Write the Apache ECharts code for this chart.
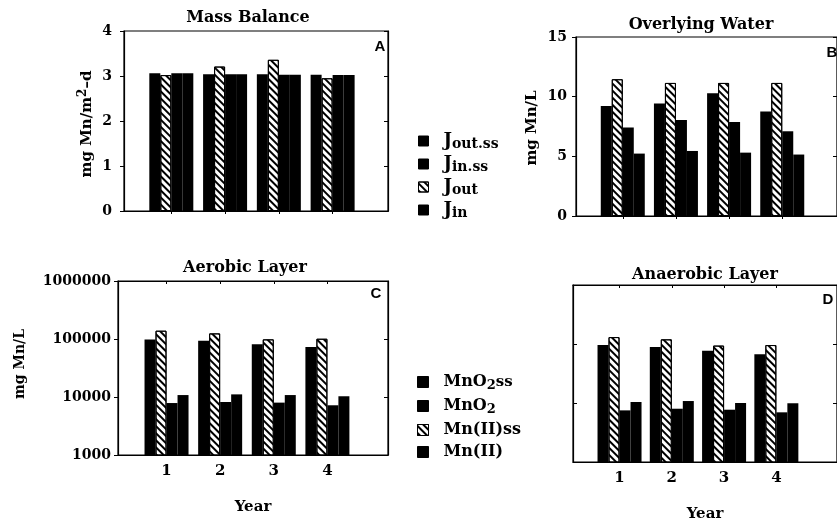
<!DOCTYPE html>
<html><head><meta charset="utf-8">
<script src="https://cdn.jsdelivr.net/npm/echarts@6/dist/echarts.min.js"></script>
<style>html,body{margin:0;padding:0;background:#fff}#c{width:837px;height:523px}</style>
</head><body><div id="c"></div>
<script>
// ---------- data ----------
const years = [1, 2, 3, 4];
const panelTitles = ['Mass Balance', 'Overlying Water', 'Aerobic Layer', 'Anaerobic Layer'];
const panelLetters = ['A', 'B', 'C', 'D'];
const fluxNames = ['Jout.ss', 'Jin.ss', 'Jout', 'Jin'];
const mnNames = ['MnO2ss', 'MnO2', 'Mn(II)ss', 'Mn(II)'];

// A: Mass Balance (mg Mn/m2-d)
const massJoutSS = [3.06, 3.04, 3.04, 3.03];
const massJout   = [3.02, 3.21, 3.36, 2.95];
const massJinSS  = [3.06, 3.04, 3.03, 3.02];
const massJin    = [3.06, 3.04, 3.03, 3.02];
// B: Overlying Water (mg Mn/L)
const waterJoutSS = [9.22, 9.42, 10.28, 8.75];
const waterJout   = [11.46, 11.15, 11.15, 11.15];
const waterJinSS  = [7.41, 8.05, 7.88, 7.10];
const waterJin    = [5.23, 5.45, 5.31, 5.15];
// C: Aerobic Layer (mg Mn/L)
const aeroMnO2ss  = [98000, 93500, 81000, 73000];
const aeroMnIIss  = [139000, 125000, 98600, 101000];
const aeroMnO2    = [7870, 8200, 8000, 7200];
const aeroMnII    = [10800, 11100, 10800, 10300];
// D: Anaerobic Layer (mg Mn/L)
const anaeroMnO2ss = [96000, 89000, 77000, 67000];
const anaeroMnIIss = [131000, 120000, 94000, 96000];
const anaeroMnO2   = [7500, 8000, 7700, 6950];
const anaeroMnII   = [10400, 10800, 10000, 9900];

// ---------- styles ----------
const SERIF = '"DejaVu Serif", serif';
const HATCH = { symbol: 'rect', symbolSize: 1, dashArrayX: [1, 0], dashArrayY: [1.5, 2.7], rotation: Math.PI / 4, color: '#000' };

const grids = [
  { left: 124, top: 31, width: 264, height: 180 },
  { left: 576, top: 37, width: 264, height: 179 },
  { left: 118, top: 281, width: 270, height: 174 },
  { left: 573, top: 285, width: 270, height: 177 }
];
const xRanges = [[0.12, 5.03], [0.12, 5.03], [0.095, 5.13], [0.11, 5.16]];

function bars(name, vals, g, hatched) {
  return {
    type: 'bar', name, xAxisIndex: 2 * g, yAxisIndex: 2 * g,
    barWidth: 11, barGap: '0%', animation: false,
    data: vals.map((v, i) => [years[i], v]),
    itemStyle: hatched
      ? { color: '#fff', borderColor: '#000', borderWidth: 1, decal: HATCH }
      : { color: '#000', borderColor: '#000', borderWidth: 0 },
    emphasis: { disabled: true }
  };
}

const series = [
  bars('Jout.ss', massJoutSS, 0, false), bars('Jout', massJout, 0, true),
  bars('Jin.ss', massJinSS, 0, false), bars('Jin', massJin, 0, false),
  bars('Jout.ss', waterJoutSS, 1, false), bars('Jout', waterJout, 1, true),
  bars('Jin.ss', waterJinSS, 1, false), bars('Jin', waterJin, 1, false),
  bars('MnO2ss', aeroMnO2ss, 2, false), bars('Mn(II)ss', aeroMnIIss, 2, true),
  bars('MnO2', aeroMnO2, 2, false), bars('Mn(II)', aeroMnII, 2, false),
  bars('MnO2ss', anaeroMnO2ss, 3, false), bars('Mn(II)ss', anaeroMnIIss, 3, true),
  bars('MnO2', anaeroMnO2, 3, false), bars('Mn(II)', anaeroMnII, 3, false)
];

const xAxis = [];
const yAxis = [];
const labelFont = { color: '#000', fontFamily: SERIF, fontWeight: 'bold', fontSize: 14 };
grids.forEach((g, i) => {
  const showX = i >= 2;
  xAxis.push({
    type: 'value', gridIndex: i, min: xRanges[i][0], max: xRanges[i][1], position: 'bottom',
    axisLine: { show: true, lineStyle: { color: '#000', width: 1.2 } },
    axisTick: { show: false },
    splitLine: { show: false },
    axisLabel: showX ? { show: true, margin: 9, fontSize: 15, customValues: years, formatter: v => String(v), color: '#000', fontFamily: SERIF, fontWeight: 'bold' } : { show: false },
    name: showX ? 'Year' : '', nameLocation: 'middle', nameGap: 45,
    nameTextStyle: { color: '#000', fontFamily: SERIF, fontWeight: 'bold', fontSize: 15 }
  });
  xAxis.push({
    type: 'value', gridIndex: i, min: xRanges[i][0], max: xRanges[i][1], position: 'top',
    axisLine: { show: true, lineStyle: { color: '#000', width: 1.2 } },
    axisTick: { show: true, inside: true, length: 3, customValues: years, lineStyle: { color: '#000' } },
    axisLabel: { show: false }, splitLine: { show: false }
  });
  const isLog = i >= 2;
  const base = isLog
    ? { type: 'log', logBase: 10, min: 1000, max: 1000000 }
    : (i === 0 ? { type: 'value', min: 0, max: 4, interval: 1 } : { type: 'value', min: 0, max: 15, interval: 5 });
  const margins = [12, 9, 7, 7];
  yAxis.push(Object.assign({}, base, {
    gridIndex: i, position: 'left',
    axisLine: { show: true, lineStyle: { color: '#000', width: 1.2 } },
    axisTick: { show: true, inside: i === 3, length: 4, lineStyle: { color: '#000' } },
    splitLine: { show: false },
    axisLabel: Object.assign({ show: i !== 3, margin: margins[i], formatter: v => String(Math.round(v)) }, labelFont)
  }));
  yAxis.push(Object.assign({}, base, {
    gridIndex: i, position: 'right',
    axisLine: { show: true, lineStyle: { color: '#000', width: 1.2 } },
    axisTick: { show: true, inside: true, length: 4, lineStyle: { color: '#000' } },
    splitLine: { show: false }, axisLabel: { show: false }
  }));
});

const legendRich = {
  g: { width: 10 },
  j: { fontFamily: SERIF, fontWeight: 'bold', fontSize: 18, lineHeight: 20, color: '#000', verticalAlign: 'middle' },
  s: { fontFamily: SERIF, fontWeight: 'bold', fontSize: 14, lineHeight: 11, color: '#000', verticalAlign: 'bottom' },
  t: { fontFamily: SERIF, fontWeight: 'bold', fontSize: 16, lineHeight: 20, color: '#000', verticalAlign: 'middle' },
  n: { fontFamily: SERIF, fontWeight: 'bold', fontSize: 13, lineHeight: 10, color: '#000', verticalAlign: 'bottom' },
  u: { fontFamily: SERIF, fontWeight: 'bold', fontSize: 15, lineHeight: 20, color: '#000', verticalAlign: 'middle' }
};
function fluxFmt(name) { return '{g|}{j|J}{s|' + name.slice(1) + '}'; }
function mnFmt(name) {
  if (name.indexOf('MnO2') === 0) {
    const rest = name.slice(4);
    return '{g|}{t|MnO}{n|2}' + (rest ? '{u|' + rest + '}' : '');
  }
  return '{g|}{t|' + name + '}';
}
const legendCommon = {
  orient: 'vertical', selectedMode: false, icon: 'rect',
  itemStyle: { borderColor: '#000', borderWidth: 1 },
  textStyle: { rich: legendRich }
};

const graphic = [];
const titlePos = [[248, 18], [701, 25], [245, 268], [705, 275]];
panelTitles.forEach((t, i) => graphic.push({
  type: 'text', x: titlePos[i][0], y: titlePos[i][1], silent: true,
  style: { text: t, fill: '#000', font: 'bold 16px "DejaVu Serif"', align: 'center', verticalAlign: 'middle' }
}));
const letterPos = [[380, 47], [832, 53], [376, 294], [828, 300]];
panelLetters.forEach((t, i) => graphic.push({
  type: 'text', x: letterPos[i][0], y: letterPos[i][1], silent: true,
  style: { text: t, fill: '#000', font: 'bold 15px "Liberation Sans"', align: 'center', verticalAlign: 'middle' }
}));
const nameRich = {
  a: { fontFamily: SERIF, fontWeight: 'bold', fontSize: 15, lineHeight: 20, fill: '#000', verticalAlign: 'middle' },
  p: { fontFamily: SERIF, fontWeight: 'bold', fontSize: 12, lineHeight: 12, fill: '#000', verticalAlign: 'top' },
  b: { fontFamily: SERIF, fontWeight: 'bold', fontSize: 15, lineHeight: 20, fill: '#000', verticalAlign: 'middle' },
  c: { fontFamily: SERIF, fontWeight: 'bold', fontSize: 14, lineHeight: 20, fill: '#000', verticalAlign: 'middle' }
};
graphic.push({ type: 'text', x: 87, y: 124, rotation: Math.PI / 2, silent: true,
  style: { text: '{a|mg Mn/m}{p|2}{a|–d}', rich: nameRich, align: 'center', verticalAlign: 'middle' } });
graphic.push({ type: 'text', x: 532, y: 128, rotation: Math.PI / 2, silent: true,
  style: { text: '{b|mg Mn/L}', rich: nameRich, align: 'center', verticalAlign: 'middle' } });
graphic.push({ type: 'text', x: 20, y: 364, rotation: Math.PI / 2, silent: true,
  style: { text: '{c|mg Mn/L}', rich: nameRich, align: 'center', verticalAlign: 'middle' } });

const chart = echarts.init(document.getElementById('c'), null, { renderer: 'canvas' });
chart.setOption({
  backgroundColor: '#fff',
  animation: false,
  grid: grids.map(g => Object.assign({ show: true, borderColor: '#000', borderWidth: 1.2, backgroundColor: 'transparent' }, g)),
  xAxis, yAxis, series, graphic,
  legend: [
    Object.assign({}, legendCommon, { data: fluxNames, left: 413, top: 127, itemWidth: 10, itemHeight: 10, itemGap: 4, formatter: fluxFmt }),
    Object.assign({}, legendCommon, { data: mnNames, left: 412, top: 369, itemWidth: 11, itemHeight: 11, itemGap: 6, formatter: mnFmt })
  ]
});
</script>
</body></html>
